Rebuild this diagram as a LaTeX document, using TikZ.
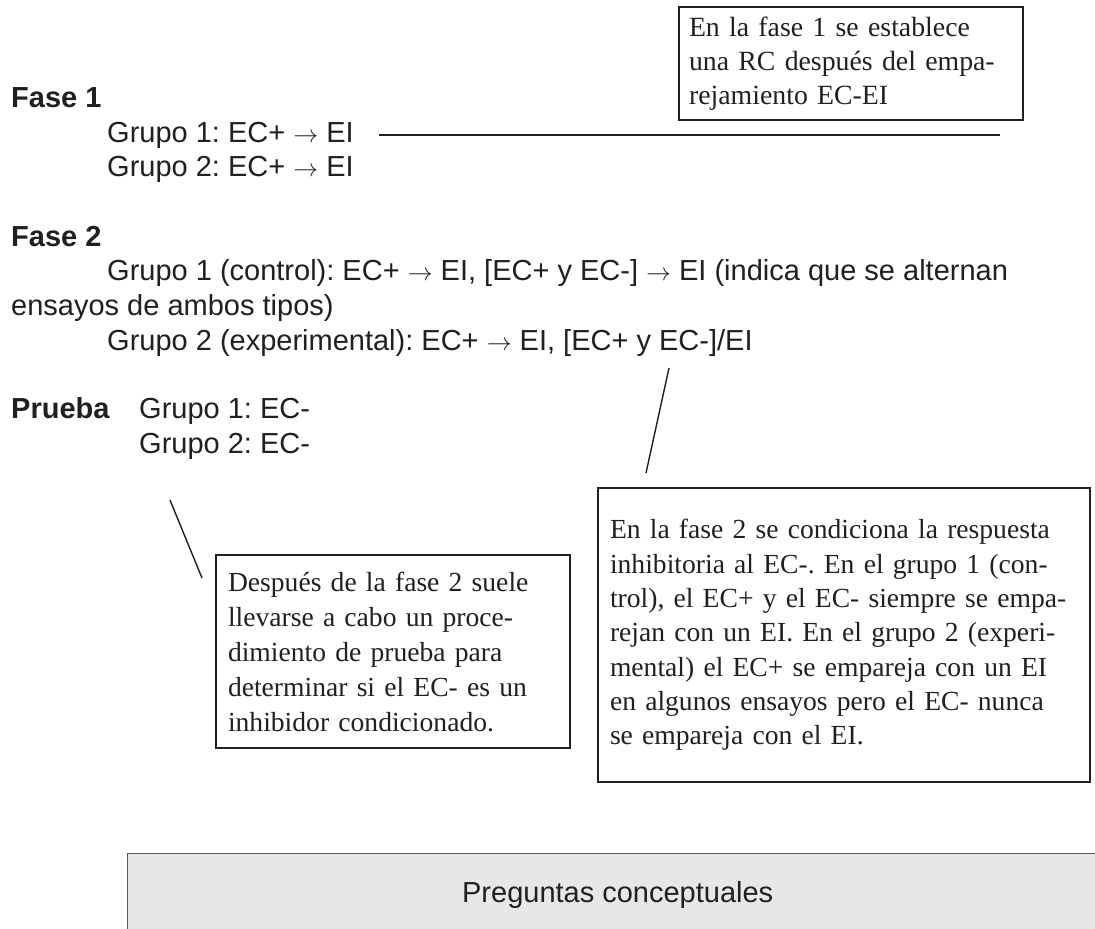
\documentclass[tikz,border=0pt]{standalone}
\usepackage{fontspec}
\setmainfont{Liberation Serif}
\setsansfont{Liberation Sans}
\definecolor{ink}{HTML}{231F20}
\definecolor{panel}{HTML}{E6E7E8}
\definecolor{panelline}{HTML}{58595B}
\newcommand{\toarrow}{$\rightarrow$}
\begin{document}
\frenchspacing
\begin{tikzpicture}[x=1pt,y=-1pt,
  sanstext/.style={font=\sffamily\fontsize{29}{34}\selectfont, text=ink, inner sep=0pt, anchor=base west},
  boldtext/.style={sanstext, font=\sffamily\bfseries\fontsize{29}{34}\selectfont},
  notebox/.style={draw=ink, line width=1.4pt, text=ink, align=left, inner ysep=0pt},
  leader/.style={draw=ink, line width=1.4pt}]
\useasboundingbox (0,0) rectangle (1095,929);

% left column
\node[boldtext] (f1) at (11,107) {Fase 1};
\node[sanstext] (f1g1) at (107,142) {Grupo 1: EC+ \toarrow{} EI};
\node[sanstext] (f1g2) at (107,176) {Grupo 2: EC+ \toarrow{} EI};
\node[boldtext] (f2) at (11,246) {Fase 2};
\node[sanstext] (f2g1) at (107,280) {Grupo 1 (control): EC+ \toarrow{} EI, [EC+ y EC-] \toarrow{} EI (indica que se alternan};
\node[sanstext] (f2g1b) at (11,315) {ensayos de ambos tipos)};
\node[sanstext] (f2g2) at (107,350) {Grupo 2 (experimental): EC+ \toarrow{} EI, [EC+ y EC-]/EI};
\node[boldtext] (pr) at (11,418) {Prueba};
\node[sanstext] (prg1) at (139,418) {Grupo 1: EC-};
\node[sanstext] (prg2) at (139,453) {Grupo 2: EC-};

% note boxes
\node[notebox, font=\rmfamily\fontsize{27.8}{34}\selectfont, inner xsep=10pt,
      text width=324pt, minimum height=113pt] (n1) at (851,63.5)
 {\mbox{En la fase 1 se establece}\\\mbox{una RC después del empa-}\\\mbox{rejamiento EC-EI}};

\node[notebox, font=\rmfamily\fontsize{27.6}{35}\selectfont, inner xsep=12pt,
      text width=330pt, minimum height=193pt] (n2) at (393,651.5)
 {\mbox{Después de la fase 2 suele}\\\mbox{llevarse a cabo un proce-}\\\mbox{dimiento de prueba para}\\\mbox{determinar si el EC- es un}\\\mbox{inhibidor condicionado.}};

\node[notebox, font=\rmfamily\fontsize{27.6}{34.3}\selectfont, inner xsep=12pt,
      text width=468pt, minimum height=294pt] (n3) at (844,635)
 {\mbox{En la fase 2 se condiciona la respuesta}\\\mbox{inhibitoria al EC-. En el grupo 1 (con-}\\\mbox{trol), el EC+ y el EC- siempre se empa-}\\\mbox{rejan con un EI. En el grupo 2 (experi-}\\\mbox{mental) el EC+ se empareja con un EI}\\\mbox{en algunos ensayos pero el EC- nunca}\\\mbox{se empareja con el EI.}};

% leader lines
\coordinate (a1) at (379,135);
\coordinate (b1) at (1000,135);
\draw[leader] (a1) -- (b1);
\coordinate (a2) at (669,368);
\coordinate (b2) at (646,473);
\draw[leader] (a2) -- (b2);
\coordinate (a3) at (170,500);
\coordinate (b3) at (202,578);
\draw[leader] (a3) -- (b3);

% bottom panel
\node[fill=panel, draw=panelline, line width=1.4pt, anchor=north west,
      minimum width=980pt, minimum height=82pt, inner sep=0pt,
      font=\sffamily\fontsize{29}{34}\selectfont, text=ink] (preg) at (127,853)
 {Preguntas conceptuales};
\end{tikzpicture}
\end{document}
